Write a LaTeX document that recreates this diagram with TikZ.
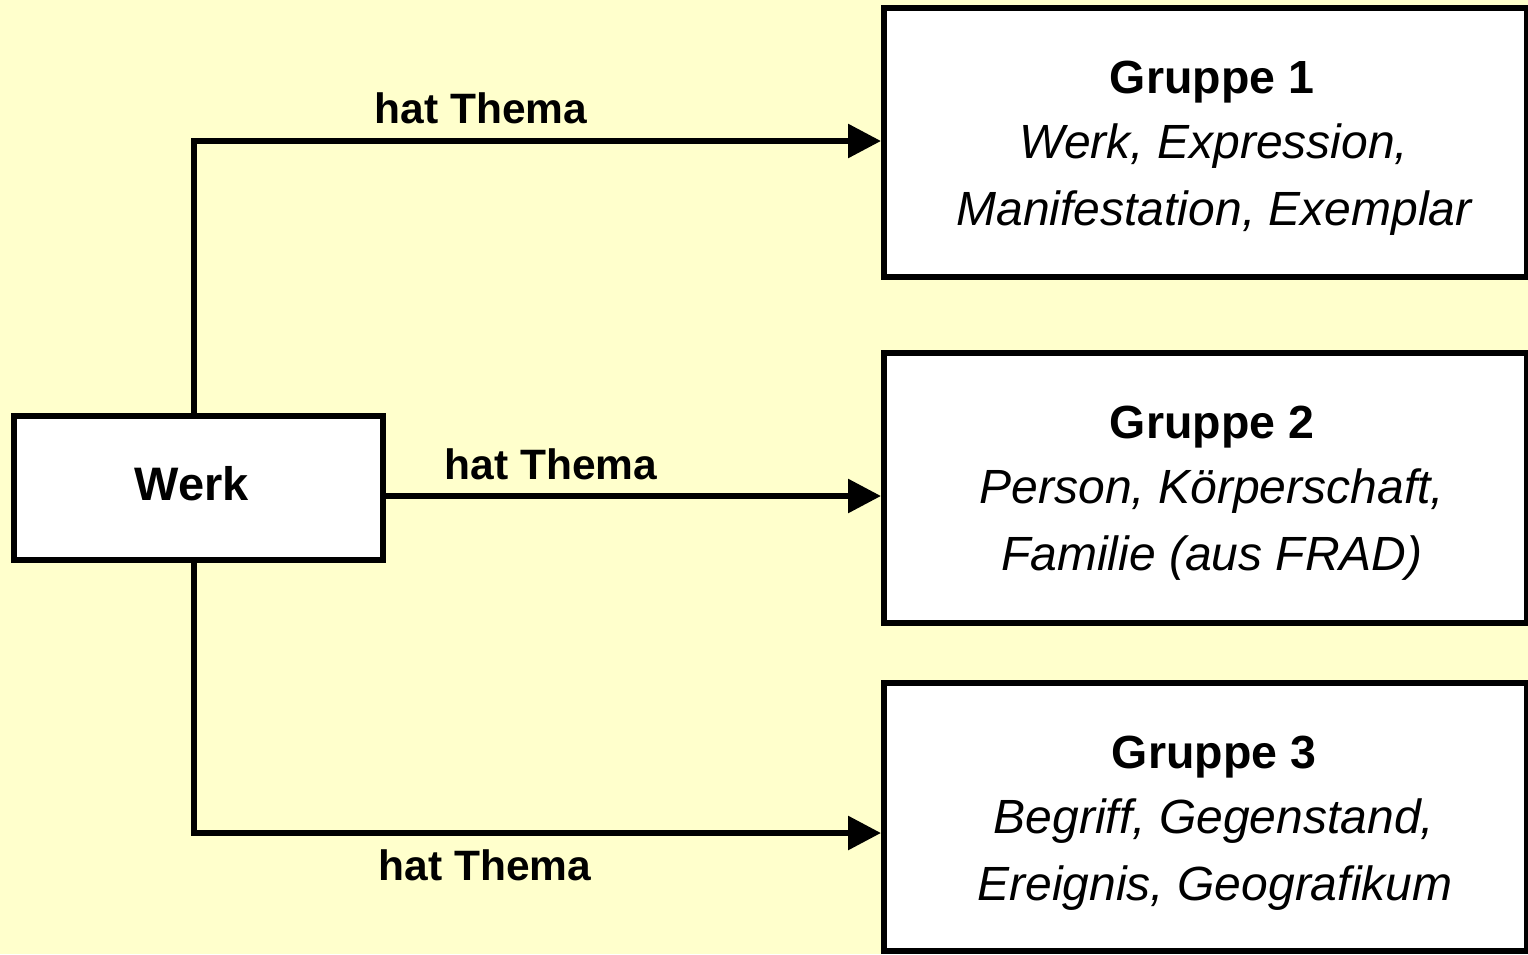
\documentclass[tikz,border=0pt]{standalone}
\usepackage{fontspec}
\setmainfont{Liberation Sans}
\usetikzlibrary{arrows.meta,calc}
\definecolor{paper}{HTML}{FFFFCC}
\begin{document}
\begin{tikzpicture}[x=1pt,y=-1pt,
  box/.style={draw=black,fill=white,line width=6pt,inner sep=0pt,rectangle},
  conn/.style={line width=6pt,-{Triangle[length=33pt,width=33pt]}},
  rel/.style={font=\fontsize{42.5}{50}\selectfont\bfseries,anchor=base,inner sep=0pt},
  grouptitle/.style={font=\fontsize{46.5}{55}\selectfont\bfseries,anchor=base,inner sep=0pt},
  member/.style={font=\fontsize{48}{55}\selectfont\itshape,anchor=base,inner sep=0pt},
]
% page background
\fill[paper] (0,0) rectangle (1528,954);
\useasboundingbox (0,0) rectangle (1528,954);

% source entity
\node[box,minimum width=368.5pt,minimum height=144pt] (werk) at (198.25,488) {};
\node[grouptitle,font=\fontsize{47}{55}\selectfont\bfseries] (werkt) at (192,500) {Werk};

% the three groups
\node[box,minimum width=643pt,minimum height=269.5pt] (g1) at (1205.5,142.25) {};
\node[box,minimum width=643pt,minimum height=269.5pt] (g2) at (1205.5,488) {};
\node[box,minimum width=643pt,minimum height=267.7pt] (g3) at (1205.5,817.2) {};

\node[grouptitle] (g1t) at (1212,93) {Gruppe 1};
\node[member] (g1a) at (1214,158) {Werk, Expression,};
\node[member] (g1b) at (1214,225) {Manifestation, Exemplar};

\node[grouptitle] (g2t) at (1212,438.5) {Gruppe 2};
\node[member] (g2a) at (1212,503.5) {Person, Körperschaft,};
\node[member] (g2b) at (1212,570.5) {Familie (aus FRAD)};

\node[grouptitle] (g3t) at (1214,768.5) {Gruppe 3};
\node[member] (g3a) at (1214,833.5) {Begriff, Gegenstand,};
\node[member] (g3b) at (1215,900.5) {Ereignis, Geografikum};

% connector routing
\coordinate (trunk) at (194,0);
\coordinate (ytop) at (0,141);
\coordinate (ymid) at (0,496);
\coordinate (ybot) at (0,833);

\draw[conn] (werk.north -| trunk) |- (g1.west |- ytop);
\draw[conn] (werk.east |- ymid) -- (g2.west |- ymid);
\draw[conn] (werk.south -| trunk) |- (g3.west |- ybot);

% relation labels
\node[rel] (l1) at (481,123) {hat Thema};
\node[rel] (l2) at (551,479) {hat Thema};
\node[rel] (l3) at (485,880) {hat Thema};
\end{tikzpicture}
\end{document}
